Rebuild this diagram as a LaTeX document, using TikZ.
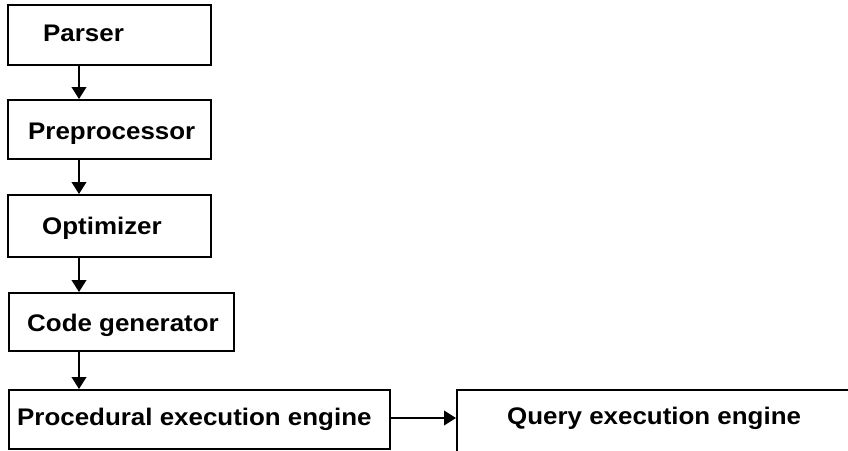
\documentclass[tikz,border=0pt]{standalone}
\usepackage{fontspec}
\setmainfont{Liberation Sans}[FakeStretch=1.08]
\usetikzlibrary{arrows.meta}
\tikzset{
  box/.style={draw, line width=2pt, inner sep=0pt, outer sep=1pt},
  lbl/.style={anchor=base west, inner sep=0pt, font=\fontsize{24}{28}\selectfont\bfseries},
  arr/.style={line width=2pt, -{Triangle[width=14.6pt,length=12pt]}}
}
\begin{document}
\begin{tikzpicture}[x=1pt, y=-1pt]
  \useasboundingbox (0,0) rectangle (848,450);
  \clip (0,0) rectangle (848,450);
  \fill[white] (0,0) rectangle (848,450);

  % pipeline boxes
  \node[box, minimum width=203pt, minimum height=60pt] (parser) at (109.5,35) {};
  \node[box, minimum width=203pt, minimum height=59pt] (prep) at (109.5,129.5) {};
  \node[box, minimum width=203pt, minimum height=62pt] (opt) at (109.5,226) {};
  \node[box, minimum width=225pt, minimum height=58pt] (code) at (121.5,322) {};
  \node[box, minimum width=381pt, minimum height=59pt] (proc) at (199.5,419.5) {};
  \node[box, minimum width=460pt, minimum height=90pt] (query) at (687,435) {};

  % labels
  \node[lbl] (tparser) at (43,41) {Parser};
  \node[lbl] (tprep) at (28,139) {Preprocessor};
  \node[lbl] (topt) at (42,234) {Optimizer};
  \node[lbl] (tcode) at (27,331) {Code generator};
  \node[lbl] (tproc) at (17,425) {Procedural execution engine};
  \node[lbl] (tquery) at (507,424) {Query execution engine};

  % connectors
  \coordinate (ax) at (79,0);
  \coordinate (hy) at (0,418);
  \draw[arr] (parser.south -| ax) -- (prep.north -| ax);
  \draw[arr] (prep.south -| ax) -- (opt.north -| ax);
  \draw[arr] (opt.south -| ax) -- (code.north -| ax);
  \draw[arr] (code.south -| ax) -- (proc.north -| ax);
  \draw[arr] (proc.east |- hy) -- (query.west |- hy);
\end{tikzpicture}
\end{document}
